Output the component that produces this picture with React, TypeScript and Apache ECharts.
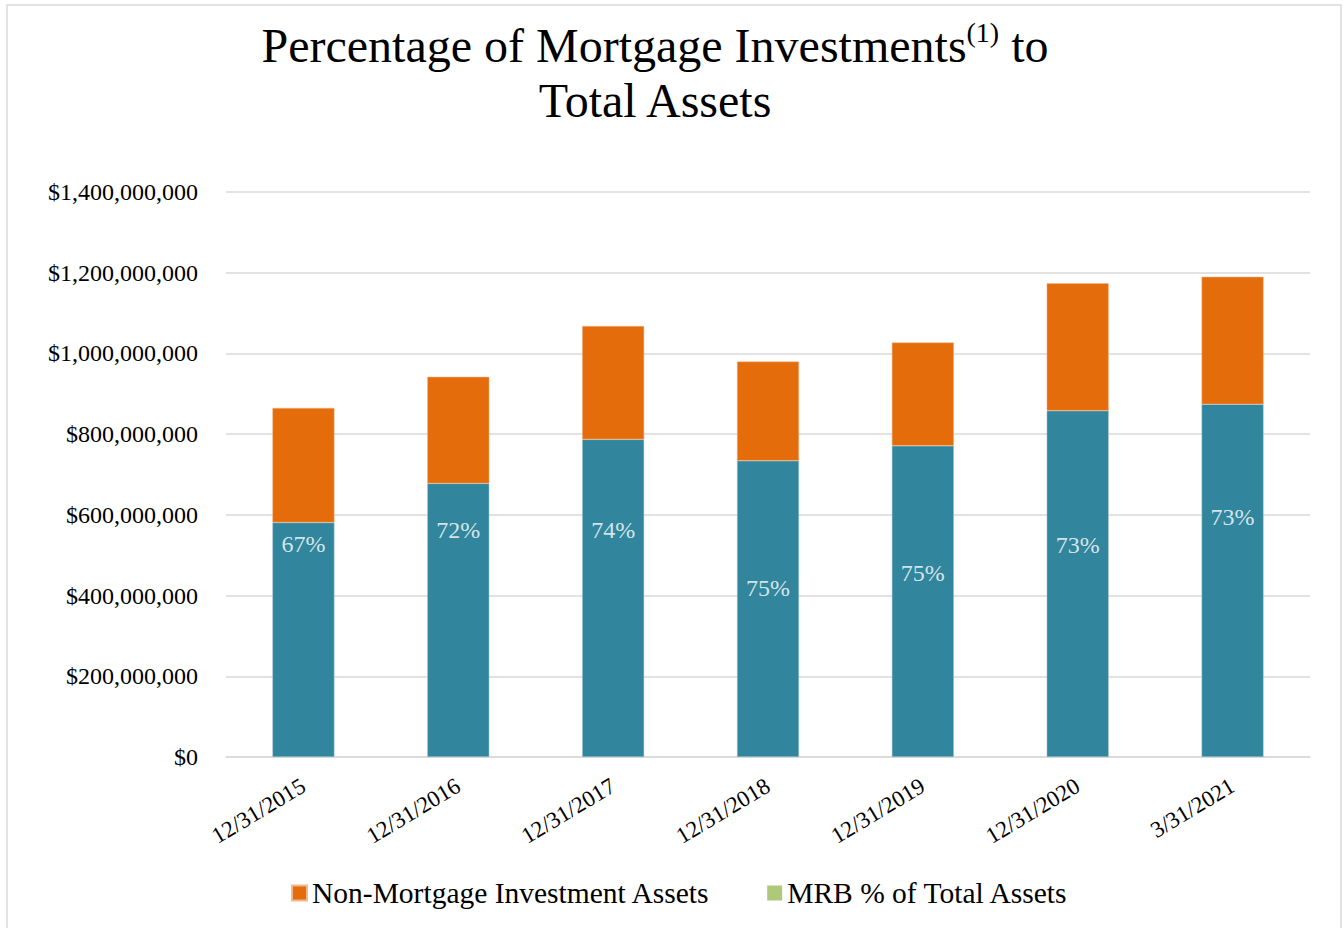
import React, { useEffect, useRef } from "react";
import * as echarts from "echarts";

const categories = ["12/31/2015", "12/31/2016", "12/31/2017", "12/31/2018", "12/31/2019", "12/31/2020", "3/31/2021"];
// Mortgage investments (teal, bottom) in dollars
const mortgageInvestments = [581e6, 678e6, 787e6, 734e6, 771e6, 858e6, 874e6];
// Non-mortgage investment assets (orange, top) in dollars
const nonMortgageAssets = [284e6, 264e6, 281e6, 246e6, 256e6, 316e6, 316e6];
// MRB % of total assets labels
const mrbPercent = ["67%", "72%", "74%", "75%", "75%", "73%", "73%"];
// Vertical anchor of each percentage label, in axis dollars
const mrbLabelLevel = [528e6, 563e6, 563e6, 418e6, 456e6, 525e6, 595e6];
const yTicks = { min: 0, max: 1400e6, interval: 200e6 };

const SERIF = "'Liberation Serif', 'Times New Roman', serif";

function fmtDollar(v: number): string {
  return "$" + Math.round(v).toString().replace(/\B(?=(\d{3})+(?!\d))/g, ",");
}

export default function App() {
  const ref = useRef<HTMLDivElement>(null);
  useEffect(() => {
    document.body.style.margin = "0";
    if (!ref.current) return;
    const chart = echarts.init(ref.current, undefined, { renderer: "svg" });
    chart.setOption({
      animation: false,
      backgroundColor: "#ffffff",
      textStyle: { fontFamily: SERIF },
      graphic: [
        {
          type: "rect",
          shape: { x: 7, y: 5, width: 1334, height: 940 },
          style: { fill: "none", stroke: "#d9d9d9", lineWidth: 1.5 },
          silent: true,
        },
      ],
      title: {
        left: 650,
        textAlign: "center",
        top: 13,
        text: "{a|Percentage of Mortgage Investments}{s|(1)}{a| to}\n{a|Total Assets}",
        textStyle: {
          fontWeight: "normal",
          rich: {
            a: { fontFamily: SERIF, fontSize: 48, fontWeight: "normal", color: "#000", lineHeight: 55 },
            s: { fontFamily: SERIF, fontSize: 28, fontWeight: "normal", color: "#000", verticalAlign: "top", lineHeight: 55, padding: [0, 0, 20, 0] },
          },
        },
      },
      legend: {
        top: 878,
        left: 291,
        padding: 0,
        icon: "rect",
        itemWidth: 15,
        itemHeight: 15,
        itemGap: 57,
        textStyle: { fontFamily: SERIF, fontSize: 29.5, color: "#000" },
        data: [
          { name: "Non-Mortgage Investment Assets" },
          { name: "MRB % of Total Assets", itemStyle: { color: "#9BBB59" } },
        ],
      },
      grid: { left: 226, right: 34, top: 192, bottom: 171, containLabel: false },
      xAxis: {
        type: "category",
        data: categories,
        axisLine: { lineStyle: { color: "#d9d9d9", width: 1.5 } },
        axisTick: { show: false },
        axisLabel: {
          rotate: 31,
          fontFamily: SERIF,
          fontSize: 23,
          color: "#000",
          margin: 27,
          interval: 0,
        },
      },
      yAxis: {
        type: "value",
        min: yTicks.min,
        max: yTicks.max,
        interval: yTicks.interval,
        axisLine: { show: false },
        axisTick: { show: false },
        splitLine: { lineStyle: { color: "#d9d9d9", width: 1.5 } },
        axisLabel: {
          fontFamily: SERIF,
          fontSize: 24,
          color: "#000",
          margin: 28,
          formatter: (v: number) => fmtDollar(v),
        },
      },
      series: [
        {
          name: "Mortgage Investments",
          type: "bar",
          stack: "total",
          barWidth: 62,
          data: mortgageInvestments,
          itemStyle: { color: "#31859C", borderColor: "#a9cbd6", borderWidth: 0.5 },
        },
        {
          name: "Non-Mortgage Investment Assets",
          type: "bar",
          stack: "total",
          barWidth: 62,
          data: nonMortgageAssets,
          itemStyle: { color: "#E46C0A", borderColor: "#f2b78a", borderWidth: 0.5 },
        },
        {
          name: "MRB % of Total Assets",
          type: "scatter",
          symbolSize: 0,
          itemStyle: { color: "#9BBB59" },
          data: mrbLabelLevel.map((v, i) => [categories[i], v]),
          label: {
            show: true,
            position: "inside",
            formatter: (p: any) => mrbPercent[p.dataIndex],
            fontFamily: SERIF,
            fontSize: 24,
            color: "#ffffff",
          },
          z: 5,
        },
      ],
    });
    return () => chart.dispose();
  }, []);
  return <div ref={ref} style={{ width: 1344, height: 928 }} />;
}
